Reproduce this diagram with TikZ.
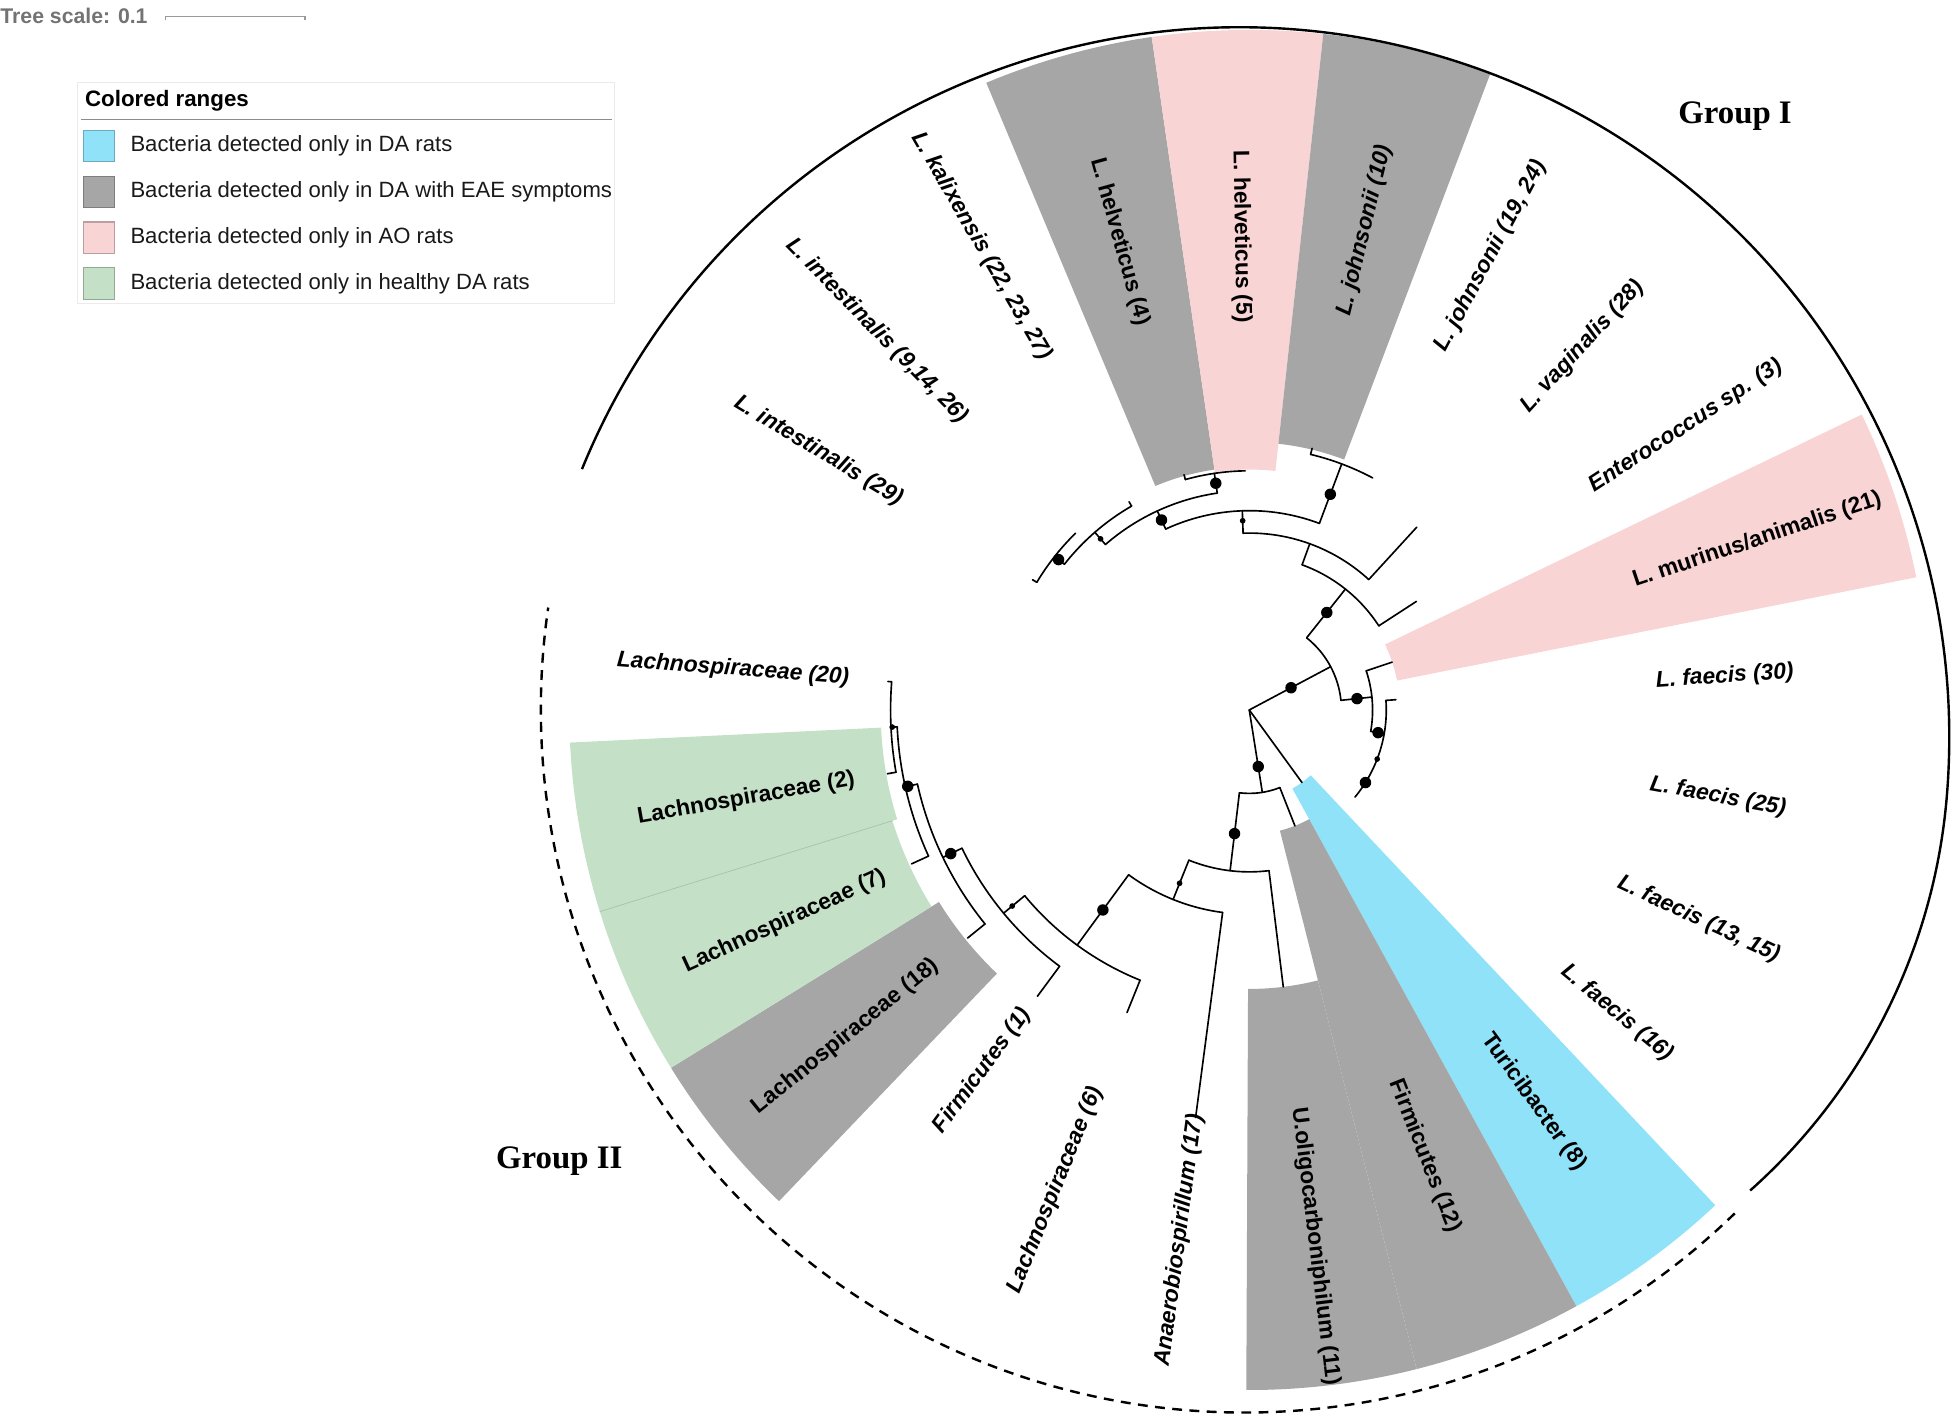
\documentclass[tikz,border=0pt]{standalone}
\usepackage{fontspec}
\setmainfont{Liberation Sans}
\newfontfamily\grpfont{Liberation Serif}
\usetikzlibrary{positioning}

\definecolor{onlyda}{HTML}{90E2F8}
\definecolor{eae}{HTML}{A6A6A6}
\definecolor{onlyao}{HTML}{F9D4D5}
\definecolor{healthy}{HTML}{C4E0C7}

% polar tree pieces: angle, inner radius, outer radius / radius, from, to
\newcommand{\branch}[3]{\draw[tree] (#1:#2) -- (#1:#3);}
\newcommand{\bracket}[3]{\draw[tree] (#2:#1) arc[start angle=#2, end angle=#3, radius=#1];}
\newcommand{\bigdot}[2]{\fill (#1:#2) circle[radius=4.6];}
\newcommand{\smalldot}[2]{\fill (#1:#2) circle[radius=2.3];}
\newcommand{\outr}{546}

\begin{document}
\begin{tikzpicture}[%
        x=0.02cm, y=0.02cm,
        tree/.style={line width=0.75pt, line cap=round},
        leaf/.style={inner sep=0pt, font=\fontsize{10.4}{12}\selectfont\bfseries\itshape},
        inlab/.style={inner sep=0pt, font=\fontsize{10.4}{12}\selectfont\bfseries},
        key/.style={draw=#1!75!black, fill=#1, line width=0.5pt, minimum size=0.5cm, inner sep=0pt},
        keytext/.style={inner sep=0pt, text=black!90, font=\fontsize{10.1}{12}\selectfont},
        grp/.style={font=\grpfont\fontsize{15}{18}\selectfont\bfseries}
        ]
        \useasboundingbox (-1003,-565) rectangle (565,570);

        % colored ranges
        \foreach \a/\rin/\col in {105.5/195/eae, 91/193/onlyao, 76.5/215/eae, 18.5/121/onlyao,
            -54/72/onlyda, -68.5/100/eae, -83/224/eae, -141/293/eae, -155.5/300/healthy, -170/296/healthy}{
            \pgfmathsetmacro\lo{\a-7.25}
            \pgfmathsetmacro\hi{\a+7.25}
            \fill[\col] (\lo:\rin) arc[start angle=\lo, end angle=\hi, radius=\rin]
                -- (\hi:\outr) arc[start angle=\hi, end angle=\lo, radius=\outr] -- cycle;
        }
        \draw[healthy!85!black, line width=0.3pt] (-162.75:300) -- (-162.75:\outr);

        % group arcs
        \draw[line width=1.1pt] (-8,-22) ++(157.8:570) arc[start angle=157.8, end angle=-5, radius=570]
            arc[start angle=-5, end angle=-48.3, radius=476.4];
        \draw[line width=1.1pt, dash pattern=on 4.5pt off 3.4pt] (-4,0.7) ++(-45.8:564.8)
            arc[start angle=-45.8, end angle=-188.3, radius=564.8];

        % group I
        \branch{28}{0}{74} \bigdot{28}{38}
        \bracket{74}{6}{51.5}
        \branch{51.5}{74}{124} \bigdot{51.5}{100}
        \bracket{124}{33}{70}
        \branch{33}{124}{160}
        \branch{70}{124}{142}
        \bracket{142}{47.5}{92}
        \branch{47.5}{142}{199}
        \branch{92}{142}{160} \smalldot{92}{152}
        \bracket{160}{69.4}{114.8}
        \branch{69.4}{160}{211} \bigdot{69.4}{185}
        \bracket{211}{62}{76.5}
        \branch{76.5}{211}{216}
        \branch{114.8}{160}{176} \bigdot{114.8}{168}
        \bracket{176}{98.4}{131}
        \branch{98.4}{176}{192} \bigdot{98.4}{184}
        \bracket{192}{91}{105.5}
        \branch{105.5}{192}{196}
        \branch{131}{176}{189} \smalldot{131}{182}
        \bracket{189}{120}{141.75}
        \branch{120}{189}{193}
        \branch{141.75}{189}{199} \bigdot{141.75}{195}
        \bracket{199}{134.5}{149}
        \branch{149}{199}{203}
        \branch{6}{74}{99} \bigdot{6}{87}
        \bracket{99}{-10}{18.5}
        \branch{18.5}{99}{121}
        \branch{-10}{99}{110} \bigdot{-10}{105}
        \bracket{110}{-39.5}{4}
        \branch{4}{110}{118}
        \smalldot{-21}{110} \bigdot{-32}{110}

        % group II
        \branch{-54}{0}{72}
        \branch{-81}{0}{67} \bigdot{-81}{46}
        \bracket{67}{-96.8}{-68.5}
        \branch{-68.5}{67}{100}
        \branch{-96.8}{67}{130} \bigdot{-96.8}{100}
        \bracket{130}{-111.9}{-83}
        \branch{-83}{130}{224}
        \branch{-111.9}{130}{164} \smalldot{-111.9}{150}
        \bracket{164}{-126.2}{-97.5}
        \branch{-97.5}{164}{330}
        \branch{-126.2}{164}{234} \bigdot{-126.2}{199}
        \bracket{234}{-140.4}{-112}
        \branch{-112}{234}{262}
        \branch{-140.4}{234}{256} \smalldot{-140.4}{247}
        \bracket{256}{-154.3}{-126.5}
        \branch{-126.5}{256}{286}
        \branch{-154.3}{256}{273} \bigdot{-154.3}{266}
        \bracket{273}{-167.4}{-141}
        \branch{-141}{273}{291}
        \branch{-167.4}{273}{283} \bigdot{-167.4}{281}
        \bracket{283}{-177.25}{-155.5}
        \branch{-155.5}{283}{298}
        \branch{-177.25}{283}{288} \smalldot{-177.25}{287}
        \bracket{288}{-184.5}{-170}
        \branch{-170}{288}{295}
        \branch{-184.5}{288}{291}

        % leaf labels
        \foreach \a/\nm/\txt in {62/lj1924/{L. johnsonii (19, 24)}, 47.5/lvag/{L. vaginalis (28)},
            33/ent/{Enterococcus sp. (3)}, 4/lf30/{L. faecis (30)}, -10.5/lf25/{L. faecis (25)},
            -25/lf1315/{L. faecis (13, 15)}, -39.5/lf16/{L. faecis (16)}}
            \node[leaf, anchor=west, rotate=\a] (\nm) at (\a:327) {\txt};
        \foreach \a/\rad/\nm/\txt in {149/326/li29/{L. intestinalis (29)}, 134.5/326/li91426/{L. intestinalis (9,14, 26)},
            120/326/lkal/{L. kalixensis (22, 23, 27)}, -97.5/327/anae/{Anaerobiospirillum (17)},
            -112/327/la6/{Lachnospiraceae (6)}, -126.5/300/fi1/{Firmicutes (1)}, 175.5/322/la20/{Lachnospiraceae (20)}}
            \node[leaf, anchor=east, rotate=\a+180] (\nm) at (\a:\rad) {\txt};
        \foreach \a/\rad/\nm/\txt in {76.5/396/lj10/{\itshape L. johnsonii (10)}, -54/389/tur/{Turicibacter (8)},
            -68.5/385/fi12/{Firmicutes (12)}, -83/434/uol/{U.oligocarboniphilum (11)}}
            \node[inlab, rotate=\a] (\nm) at (\a:\rad) {\txt};
        \node[inlab, rotate=18.5] (lmur) at (18.5:430) {L. murinus/animalis (21)};
        \foreach \a/\rad/\nm/\txt in {105.5/390/lh4/{L. helveticus (4)}, 91/380/lh5/{L. helveticus (5)},
            -141/417/la18/{Lachnospiraceae (18)}, -155.5/410/la7/{Lachnospiraceae (7)},
            -170/410/la2/{Lachnospiraceae (2)}}
            \node[inlab, rotate=\a+180] (\nm) at (\a:\rad) {\txt};

        \node[grp] (g1) at (390,477) {Group I};
        \node[grp] (g2) at (-554,-362) {Group II};

        % tree scale and legend
        \node[anchor=west, inner sep=0pt, text=black!55, font=\fontsize{9.7}{11}\selectfont\bfseries] (scale) at (-1003,557) {Tree scale: 0.1};
        \coordinate (sbl) at (-870,557);
        \coordinate (sbr) at (-758,557);
        \draw[black!40, line width=0.6pt] (sbl) -- (sbr);
        \draw[black!40, line width=0.6pt] (sbl) -- ++(0,-3) (sbr) -- ++(0,-3);

        \draw[black!8] (-941,326) rectangle (-510,504);
        \node[anchor=west, inner sep=0pt, font=\fontsize{10.2}{12}\selectfont\bfseries] (lgtitle) at (-935,489) {Colored ranges};
        \draw[black!45, line width=0.7pt] (-938,474) -- (-512,474);
        \node[key=onlyda] (k1) at (-923.5,453) {};
        \node[key=eae, below=0.22cm of k1] (k2) {};
        \node[key=onlyao, below=0.22cm of k2] (k3) {};
        \node[key=healthy, below=0.22cm of k3] (k4) {};
        \node[keytext, right=0.24cm of k1] (t1) {Bacteria detected only in DA rats};
        \node[keytext, right=0.24cm of k2] (t2) {Bacteria detected only in DA with EAE symptoms};
        \node[keytext, right=0.24cm of k3] (t3) {Bacteria detected only in AO rats};
        \node[keytext, right=0.24cm of k4] (t4) {Bacteria detected only in healthy DA rats};

        \end{tikzpicture}
\end{document}
